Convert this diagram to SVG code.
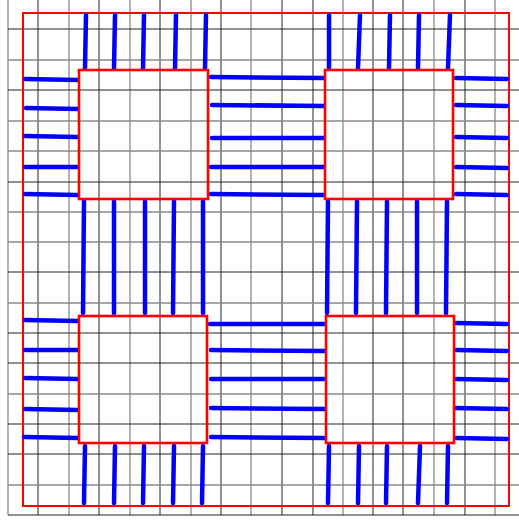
<svg xmlns="http://www.w3.org/2000/svg" width="519" height="521" viewBox="0 0 519 521">
<style>
.bk{stroke:#222;stroke-width:1}
.gy{stroke:#8a8a8a;stroke-width:1.3}
.board{fill:none;stroke:#ff0000;stroke-width:2}
.chip{fill:none;stroke:#ff0000;stroke-width:2.6}
.pin{stroke:#0000ff;stroke-width:4.5;stroke-linecap:round}
</style>
<rect width="519" height="521" fill="#ffffff"/>
<g id="grid">
<line class="gy" x1="8" y1="0" x2="8" y2="515"/>
<line class="bk" x1="38" y1="0" x2="38" y2="515"/>
<line class="gy" x1="69" y1="0" x2="69" y2="515"/>
<line class="bk" x1="99" y1="0" x2="99" y2="515"/>
<line class="gy" x1="130" y1="0" x2="130" y2="515"/>
<line class="bk" x1="160" y1="0" x2="160" y2="515"/>
<line class="gy" x1="191" y1="0" x2="191" y2="515"/>
<line class="bk" x1="221" y1="0" x2="221" y2="515"/>
<line class="gy" x1="251" y1="0" x2="251" y2="515"/>
<line class="bk" x1="282" y1="0" x2="282" y2="515"/>
<line class="bk" x1="313" y1="0" x2="313" y2="515"/>
<line class="gy" x1="343" y1="0" x2="343" y2="515"/>
<line class="bk" x1="373" y1="0" x2="373" y2="515"/>
<line class="bk" x1="403" y1="0" x2="403" y2="515"/>
<line class="gy" x1="434" y1="0" x2="434" y2="515"/>
<line class="bk" x1="465" y1="0" x2="465" y2="515"/>
<line class="gy" x1="495" y1="0" x2="495" y2="515"/>
<line class="bk" x1="8" y1="29" x2="519" y2="29"/>
<line class="gy" x1="8" y1="60" x2="519" y2="60"/>
<line class="bk" x1="8" y1="90" x2="519" y2="90"/>
<line class="gy" x1="8" y1="121" x2="519" y2="121"/>
<line class="gy" x1="8" y1="151" x2="519" y2="151"/>
<line class="bk" x1="8" y1="182" x2="519" y2="182"/>
<line class="gy" x1="8" y1="212" x2="519" y2="212"/>
<line class="gy" x1="8" y1="242" x2="519" y2="242"/>
<line class="bk" x1="8" y1="272" x2="519" y2="272"/>
<line class="gy" x1="8" y1="303" x2="519" y2="303"/>
<line class="bk" x1="8" y1="333" x2="519" y2="333"/>
<line class="bk" x1="8" y1="363" x2="519" y2="363"/>
<line class="gy" x1="8" y1="394" x2="519" y2="394"/>
<line class="bk" x1="8" y1="424" x2="519" y2="424"/>
<line class="bk" x1="8" y1="454" x2="519" y2="454"/>
<line class="gy" x1="8" y1="485" x2="519" y2="485"/>
<line class="bk" x1="8" y1="515" x2="519" y2="515"/>
</g>
<g id="board"><rect class="board" x="23" y="13" width="486" height="493"/></g>
<g id="pins">
<line class="pin" x1="86" y1="15" x2="85" y2="68"/>
<line class="pin" x1="115" y1="15" x2="114" y2="68"/>
<line class="pin" x1="144" y1="15" x2="143" y2="68"/>
<line class="pin" x1="176" y1="15" x2="175" y2="68"/>
<line class="pin" x1="206" y1="15" x2="205" y2="68"/>
<line class="pin" x1="25" y1="79" x2="78" y2="80"/>
<line class="pin" x1="26" y1="108" x2="78" y2="109"/>
<line class="pin" x1="25" y1="136" x2="78" y2="137"/>
<line class="pin" x1="25" y1="167" x2="78" y2="167"/>
<line class="pin" x1="25" y1="194" x2="78" y2="195"/>
<line class="pin" x1="211" y1="77" x2="324" y2="78"/>
<line class="pin" x1="212" y1="105" x2="324" y2="106"/>
<line class="pin" x1="212" y1="138" x2="324" y2="138"/>
<line class="pin" x1="211" y1="167" x2="324" y2="167"/>
<line class="pin" x1="211" y1="194" x2="324" y2="195"/>
<line class="pin" x1="329" y1="15" x2="329" y2="68"/>
<line class="pin" x1="360" y1="15" x2="358" y2="68"/>
<line class="pin" x1="390" y1="15" x2="389" y2="68"/>
<line class="pin" x1="419" y1="15" x2="418" y2="68"/>
<line class="pin" x1="450" y1="15" x2="448" y2="68"/>
<line class="pin" x1="456" y1="78" x2="507" y2="79"/>
<line class="pin" x1="456" y1="105" x2="507" y2="106"/>
<line class="pin" x1="456" y1="137" x2="507" y2="138"/>
<line class="pin" x1="456" y1="167" x2="507" y2="168"/>
<line class="pin" x1="456" y1="194" x2="507" y2="195"/>
<line class="pin" x1="84" y1="201" x2="83" y2="313"/>
<line class="pin" x1="114" y1="201" x2="114" y2="313"/>
<line class="pin" x1="145" y1="201" x2="145" y2="313"/>
<line class="pin" x1="174" y1="201" x2="173" y2="313"/>
<line class="pin" x1="203" y1="201" x2="203" y2="313"/>
<line class="pin" x1="328" y1="201" x2="327" y2="313"/>
<line class="pin" x1="357" y1="201" x2="356" y2="313"/>
<line class="pin" x1="387" y1="201" x2="386" y2="313"/>
<line class="pin" x1="417" y1="201" x2="417" y2="313"/>
<line class="pin" x1="447" y1="201" x2="446" y2="313"/>
<line class="pin" x1="25" y1="320" x2="78" y2="321"/>
<line class="pin" x1="25" y1="350" x2="78" y2="350"/>
<line class="pin" x1="25" y1="378" x2="78" y2="379"/>
<line class="pin" x1="25" y1="409" x2="78" y2="410"/>
<line class="pin" x1="24" y1="437" x2="78" y2="438"/>
<line class="pin" x1="210" y1="324" x2="324" y2="324"/>
<line class="pin" x1="211" y1="350" x2="324" y2="351"/>
<line class="pin" x1="211" y1="379" x2="324" y2="379"/>
<line class="pin" x1="211" y1="408" x2="324" y2="409"/>
<line class="pin" x1="211" y1="437" x2="324" y2="438"/>
<line class="pin" x1="85" y1="446" x2="84" y2="503"/>
<line class="pin" x1="115" y1="446" x2="114" y2="503"/>
<line class="pin" x1="144" y1="446" x2="143" y2="503"/>
<line class="pin" x1="174" y1="446" x2="173" y2="503"/>
<line class="pin" x1="203" y1="446" x2="202" y2="503"/>
<line class="pin" x1="456" y1="323" x2="507" y2="324"/>
<line class="pin" x1="456" y1="350" x2="507" y2="351"/>
<line class="pin" x1="456" y1="379" x2="507" y2="380"/>
<line class="pin" x1="455" y1="408" x2="507" y2="409"/>
<line class="pin" x1="456" y1="438" x2="507" y2="439"/>
<line class="pin" x1="329" y1="446" x2="328" y2="503"/>
<line class="pin" x1="359" y1="446" x2="358" y2="503"/>
<line class="pin" x1="387" y1="446" x2="386" y2="503"/>
<line class="pin" x1="420" y1="446" x2="418" y2="503"/>
<line class="pin" x1="448" y1="446" x2="447" y2="503"/>
</g>
<g id="chip-tl"><rect class="chip" x="79" y="70" width="129" height="129"/></g>
<g id="chip-tr"><rect class="chip" x="325" y="70" width="128" height="129"/></g>
<g id="chip-bl"><rect class="chip" x="79" y="316" width="128" height="127"/></g>
<g id="chip-br"><rect class="chip" x="326" y="316" width="128" height="127"/></g>
</svg>
